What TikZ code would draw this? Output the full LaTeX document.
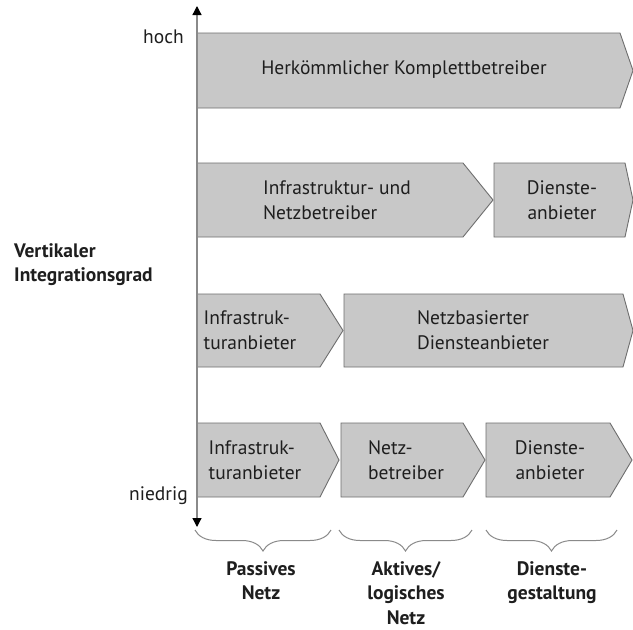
\documentclass[tikz,border=0pt]{standalone}
\usepackage{fontspec}
\setmainfont{PT Sans}
\usetikzlibrary{arrows.meta,decorations.pathreplacing}
\definecolor{boxfill}{HTML}{C8C8C8}
\definecolor{boxline}{HTML}{6E6E6E}
\definecolor{txt}{HTML}{1E1E1E}
\definecolor{axisgray}{HTML}{8A8A8A}
\tikzset{
  chev/.style={fill=boxfill,draw=boxline,line width=0.9pt,line join=miter},
  lbl/.style={font=\fontsize{19.5}{25}\selectfont,text=txt,inner sep=0pt},
  lblL/.style={lbl,align=left},
  lblC/.style={lbl,align=center},
  bot/.style={font=\bfseries\fontsize{19.5}{24.5}\selectfont,text=txt,inner sep=0pt,align=center,anchor=north},
  brc/.style={draw=axisgray,line width=1pt,decorate,decoration={brace,mirror,amplitude=21pt}},
  axisline/.style={draw=axisgray,line width=1.3pt,{Triangle[length=9pt,width=9pt,black]}-{Triangle[length=9pt,width=9pt,black]}}
}
\newcommand{\chevshape}[5]{% left, rectend, tip, top, bottom
  \draw[chev] (#1,#4) -- (#2,#4) -- (#3,{(#4+#5)/2}) -- (#2,#5) -- (#1,#5) -- cycle;}
\begin{document}
\begin{tikzpicture}[x=1pt,y=-1pt]
\clip (0,0) rectangle (633,630);
\fill[white] (0,0) rectangle (633,630);
% row 1
\chevshape{197}{620}{633}{33}{108}
\node[lblC] (r1) at (404,70) {Herkömmlicher Komplettbetreiber};
% row 2
\chevshape{197}{463}{493}{163}{237}
\chevshape{494}{625}{633}{163}{237}
\node[lblL] (r2a) at (337,200) {Infrastruktur- und\\Netzbetreiber};
\node[lblC] (r2b) at (562,200) {Dienste-\\anbieter};
% row 3
\chevshape{197}{320}{343}{294}{367}
\chevshape{344}{623}{633}{294}{367}
\node[lblL] (r3a) at (250,330) {Infrastruk-\\turanbieter};
\node[lblL] (r3b) at (483,330) {Netzbasierter\\Diensteanbieter};
% row 4
\chevshape{197}{320}{339}{423}{497}
\chevshape{341}{463}{485}{423}{497}
\chevshape{486}{610}{632}{423}{497}
\node[lblL] (r4a) at (255,460) {Infrastruk-\\turanbieter};
\node[lblL] (r4b) at (406,460) {Netz-\\betreiber};
\node[lblC] (r4c) at (550,460) {Dienste-\\anbieter};
% axis
\coordinate (atop) at (197,6);
\coordinate (abot) at (197,527);
\draw[axisline] (abot) -- (atop);
\node[lbl,anchor=base east] (hoch) at (184,43) {hoch};
\node[lbl,anchor=base east] (niedrig) at (188,500) {niedrig};
\node[lbl,font=\bfseries\fontsize{19.5}{24}\selectfont,align=left,anchor=north west] (vig) at (14,243) {Vertikaler\\Integrationsgrad};
% braces
\coordinate (b1l) at (195,530); \coordinate (b1r) at (331,530);
\coordinate (b2l) at (339,530); \coordinate (b2r) at (472,530);
\coordinate (b3l) at (486,530); \coordinate (b3r) at (617,530);
\draw[brc] (b1l) -- (b1r);
\draw[brc] (b2l) -- (b2r);
\draw[brc] (b3l) -- (b3r);
\node[bot] (p1) at (261,561) {Passives\\Netz};
\node[bot] (p2) at (406,561) {Aktives/\\logisches\\Netz};
\node[bot] (p3) at (552,561) {Dienste-\\gestaltung};
\end{tikzpicture}
\end{document}
